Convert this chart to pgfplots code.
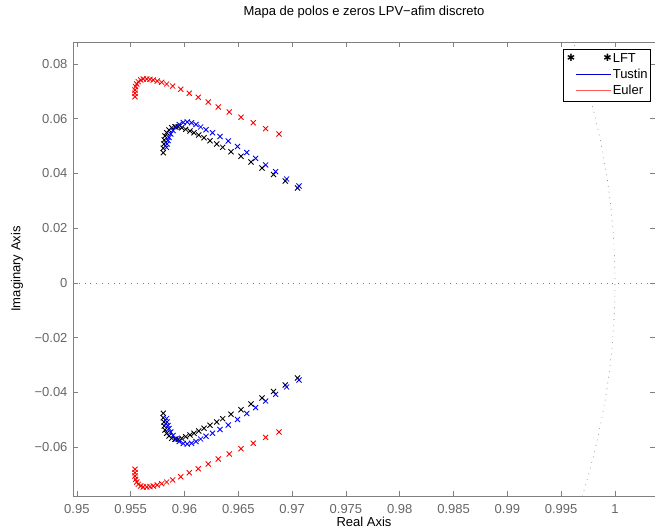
\documentclass[border=0pt]{standalone}
\usepackage{fontspec}
\setmainfont{Liberation Sans}
\newfontfamily\djv{DejaVu Sans}
\usepackage{pgfplots}
\usepackage{pgfplotstable}
\pgfplotsset{compat=1.18}

\pgfplotstableread{
x yp yn
0.95803 0.04760 -0.04760
0.95803 0.04921 -0.04921
0.95809 0.05078 -0.05078
0.95812 0.05224 -0.05224
0.95819 0.05370 -0.05370
0.95834 0.05490 -0.05490
0.95856 0.05589 -0.05589
0.95881 0.05673 -0.05673
0.95912 0.05710 -0.05710
0.95942 0.05710 -0.05710
0.95974 0.05673 -0.05673
0.96011 0.05615 -0.05615
0.96051 0.05553 -0.05553
0.96088 0.05490 -0.05490
0.96132 0.05406 -0.05406
0.96181 0.05308 -0.05308
0.96237 0.05199 -0.05199
0.96299 0.05078 -0.05078
0.96355 0.04957 -0.04957
0.96432 0.04796 -0.04796
0.96525 0.04628 -0.04628
0.96618 0.04420 -0.04420
0.96720 0.04201 -0.04201
0.96827 0.03963 -0.03963
0.96936 0.03726 -0.03726
0.97050 0.03470 -0.03470
}\lft

\pgfplotstableread{
x yp yn
0.95834 0.04950 -0.04950
0.95837 0.05078 -0.05078
0.95846 0.05205 -0.05205
0.95856 0.05315 -0.05315
0.95872 0.05443 -0.05443
0.95893 0.05571 -0.05571
0.95921 0.05699 -0.05699
0.95952 0.05790 -0.05790
0.95989 0.05863 -0.05863
0.96026 0.05881 -0.05881
0.96065 0.05856 -0.05856
0.96107 0.05790 -0.05790
0.96150 0.05699 -0.05699
0.96200 0.05600 -0.05600
0.96260 0.05490 -0.05490
0.96330 0.05352 -0.05352
0.96407 0.05187 -0.05187
0.96492 0.04986 -0.04986
0.96578 0.04767 -0.04767
0.96661 0.04555 -0.04555
0.96754 0.04311 -0.04311
0.96847 0.04066 -0.04066
0.96949 0.03799 -0.03799
0.97064 0.03543 -0.03543
}\tustin

\pgfplotstableread{
x yp yn
0.95540 0.06806 -0.06806
0.95540 0.06930 -0.06930
0.95540 0.07050 -0.07050
0.95546 0.07171 -0.07171
0.95556 0.07269 -0.07269
0.95571 0.07353 -0.07353
0.95593 0.07416 -0.07416
0.95617 0.07452 -0.07452
0.95649 0.07452 -0.07452
0.95679 0.07441 -0.07441
0.95710 0.07416 -0.07416
0.95747 0.07379 -0.07379
0.95788 0.07332 -0.07332
0.95834 0.07269 -0.07269
0.95890 0.07196 -0.07196
0.95965 0.07076 -0.07076
0.96044 0.06930 -0.06930
0.96128 0.06784 -0.06784
0.96221 0.06612 -0.06612
0.96314 0.06429 -0.06429
0.96416 0.06247 -0.06247
0.96525 0.06053 -0.06053
0.96639 0.05856 -0.05856
0.96754 0.05637 -0.05637
0.96878 0.05443 -0.05443
}\euler

\begin{document}
\fontsize{13}{15.6}\selectfont
\begin{tikzpicture}
\begin{axis}[
  name=ax,
  scale only axis,
  width=582pt, height=454pt,
  xmin=0.94964, xmax=1.00372,
  ymin=-0.07781, ymax=0.08804,
  scaled x ticks=false, scaled y ticks=false,
  xtick={0.95,0.955,0.96,0.965,0.97,0.975,0.98,0.985,0.99,0.995,1},
  xticklabels={0.95,0.955,0.96,0.965,0.97,0.975,0.98,0.985,0.99,0.995,1},
  ytick={-0.06,-0.04,-0.02,0,0.02,0.04,0.06,0.08},
  yticklabels={−0.06,−0.04,−0.02,0,0.02,0.04,0.06,0.08},
  tick align=inside,
  major tick length=5pt,
  axis line style={black!50, line width=0.6pt},
  every tick/.style={black!50, line width=0.6pt},
  tick label style={black!60, font=\fontsize{13}{15.6}\selectfont},
  xticklabel style={yshift=-4pt},
  yticklabel style={xshift=-1pt},
  title={Mapa de polos e zeros LPV−afim discreto},
  title style={at={(axis description cs:0.5,1.0529)}, anchor=center, font=\fontsize{13}{15.6}\selectfont},
  xlabel={Real Axis},
  xlabel style={at={(axis description cs:0.5,-0.0575)}, anchor=center, font=\fontsize{13}{15.6}\selectfont},
  ylabel={Imaginary Axis},
  ylabel style={at={(axis description cs:-0.0962,0.5)}, anchor=center, font=\fontsize{13}{15.6}\selectfont},
]
% reference lines (real axis and unit circle)
\addplot[black!50, line width=0.6pt, dash pattern=on 0.8pt off 5pt]
  coordinates {(0.94964,0) (1.00372,0)};
\addplot[black!50, line width=0.6pt, dash pattern=on 0.8pt off 5pt, smooth]
  coordinates {(0.995942,-0.09) (0.996795,-0.08) (0.997547,-0.07) (0.998198,-0.06)
  (0.998749,-0.05) (0.999200,-0.04) (0.999550,-0.03) (0.999800,-0.02) (0.999950,-0.01)
  (1,0) (0.999950,0.01) (0.999800,0.02) (0.999550,0.03) (0.999200,0.04) (0.998749,0.05)
  (0.998198,0.06) (0.997547,0.07) (0.996795,0.08) (0.995942,0.09)};
% poles
\addplot[only marks, mark=x, mark size=3.6pt, black, line width=0.85pt] table[x=x,y=yp] {\lft};
\addplot[only marks, mark=x, mark size=3.6pt, black, line width=0.85pt] table[x=x,y=yn] {\lft};
\addplot[only marks, mark=x, mark size=3.6pt, blue, line width=0.85pt] table[x=x,y=yp] {\tustin};
\addplot[only marks, mark=x, mark size=3.6pt, blue, line width=0.85pt] table[x=x,y=yn] {\tustin};
\addplot[only marks, mark=x, mark size=3.6pt, red, line width=0.85pt] table[x=x,y=yp] {\euler};
\addplot[only marks, mark=x, mark size=3.6pt, red, line width=0.85pt] table[x=x,y=yn] {\euler};
\end{axis}
% legend box
\node[draw=black, line width=0.6pt, fill=white, anchor=north east, inner xsep=3pt, inner ysep=2pt,
  font=\fontsize{13}{15.6}\selectfont]
  at ([shift={(-4pt,-7pt)}]ax.north east)
  {\renewcommand{\arraystretch}{1.03}%
   \begin{tabular}{@{}l@{\hspace{1pt}}l@{}}
   \makebox[45pt][l]{\raisebox{0.05em}{\djv\fontsize{10}{12}\selectfont ✱}\hfill\raisebox{0.05em}{\djv\fontsize{10}{12}\selectfont ✱}} & LFT\\
   \makebox[45pt][l]{\hspace{9pt}\textcolor{blue!80!black}{\rule[0.33em]{35pt}{0.7pt}}} & Tustin\\
   \makebox[45pt][l]{\hspace{9pt}\textcolor{red!65}{\rule[0.33em]{35pt}{0.8pt}}} & Euler
   \end{tabular}};
\pgfresetboundingbox
\path ([shift={(-73pt,-32pt)}]ax.south west) rectangle ([shift={(0pt,42pt)}]ax.north east);
\end{tikzpicture}
\end{document}
